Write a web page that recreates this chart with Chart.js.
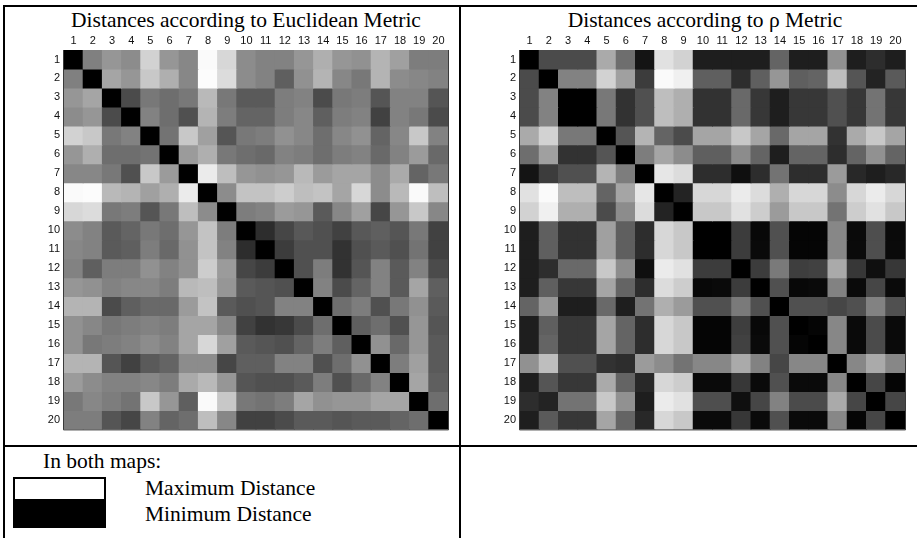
<!DOCTYPE html>
<html>
<head>
<meta charset="utf-8">
<script src="https://cdn.jsdelivr.net/npm/chart.js@4/dist/chart.umd.min.js"></script>
<style>
  html, body { margin: 0; padding: 0; background: #fff; }
  body { width: 917px; height: 538px; position: relative; overflow: hidden;
         font-family: "Liberation Serif", "Times New Roman", serif; color: #000; }
  .line { position: absolute; background: #000; }
  .title { position: absolute; top: 9px; font-size: 21.5px; line-height: 22px;
           text-align: center; white-space: nowrap; }
  .txt { position: absolute; font-size: 21.5px; line-height: 22px; white-space: nowrap; }
  canvas { position: absolute; top: 30px; }
</style>
</head>
<body>

<!-- table rules -->
<div class="line" style="left:3px; top:5px; width:914px; height:2px"></div>
<div class="line" style="left:3px; top:445px; width:914px; height:2px"></div>
<div class="line" style="left:3px; top:5px; width:2px; height:533px"></div>
<div class="line" style="left:459px; top:5px; width:2px; height:533px"></div>

<div class="title" style="left:0; width:492px">Distances according to Euclidean Metric</div>
<div class="title" style="left:455px; width:500px">Distances according to ρ Metric</div>

<canvas id="euclid" width="436" height="410" style="left:20px"></canvas>
<canvas id="rho" width="450" height="410" style="left:465px"></canvas>

<!-- key -->
<div class="txt" style="left:43px; top:450px">In both maps:</div>
<div style="position:absolute; left:13px; top:477px; width:93px; height:24px; border:2px solid #000; box-sizing:border-box; background:#fff"></div>
<div style="position:absolute; left:13px; top:501px; width:93px; height:27px; background:#000"></div>
<div class="txt" style="left:145px; top:477px">Maximum Distance</div>
<div class="txt" style="left:145px; top:503px">Minimum Distance</div>

<script>
// object numbers along both axes
const labels = ['1','2','3','4','5','6','7','8','9','10','11','12','13','14','15','16','17','18','19','20'];

// pairwise distances, 0 = identical (black) .. 255 = farthest apart (white)
const euclidDist = [
  [0,128,150,140,210,150,135,250,215,140,130,130,150,175,150,145,180,160,125,125],
  [128,0,165,150,200,175,135,252,220,140,130,95,145,180,135,120,180,140,135,130],
  [150,165,0,75,120,110,120,185,120,90,90,125,130,75,120,125,85,130,130,85],
  [140,150,75,0,130,110,80,180,125,100,100,125,135,95,125,130,65,130,120,75],
  [210,200,120,130,0,115,200,160,85,120,125,145,135,110,135,145,100,135,200,130],
  [150,175,110,110,115,0,155,175,120,110,105,130,125,110,125,130,105,130,155,105],
  [135,135,120,80,200,155,0,235,190,150,145,150,185,155,165,165,140,170,100,120],
  [250,252,185,180,160,175,235,0,140,195,195,205,190,195,165,215,140,185,250,190],
  [215,220,120,125,85,120,190,140,0,125,130,155,150,90,135,160,70,150,200,135],
  [140,130,90,100,120,110,150,195,125,0,45,70,88,80,65,88,95,85,120,65],
  [135,130,90,95,125,105,145,195,130,45,0,60,80,80,50,80,90,80,115,65],
  [130,95,125,125,145,130,145,205,155,70,60,0,80,125,50,85,130,90,130,75],
  [150,145,130,135,135,125,185,190,150,90,85,80,0,130,75,100,130,90,165,95],
  [180,180,75,95,105,105,155,195,90,80,85,130,130,0,110,125,80,120,145,90],
  [145,135,120,125,130,125,165,165,135,65,50,55,75,110,0,95,110,80,150,85],
  [145,120,125,130,140,130,165,215,160,90,85,80,100,125,95,0,145,105,150,90],
  [180,180,85,65,90,100,140,140,70,95,95,130,130,80,110,145,0,125,160,90],
  [155,140,130,130,135,125,170,185,150,85,80,80,90,125,80,105,130,0,165,95],
  [120,135,125,115,200,150,95,250,200,120,115,125,165,145,150,150,165,165,0,110],
  [125,125,85,70,130,100,110,190,135,65,65,75,90,90,85,90,90,100,110,0]
];

const rhoDist = [
  [0,75,75,75,170,110,20,225,210,30,30,30,30,100,30,30,145,30,45,30],
  [75,0,130,130,210,160,60,250,240,95,95,45,95,150,95,100,190,85,35,90],
  [75,130,0,0,120,50,80,190,175,50,50,105,55,30,55,55,80,55,115,55],
  [75,130,0,0,120,50,80,190,175,50,50,105,55,30,55,55,80,55,115,55],
  [170,210,120,120,0,85,180,100,75,165,165,200,165,105,165,165,50,170,200,165],
  [110,160,50,50,85,0,125,165,140,95,95,140,100,30,100,100,45,100,145,100],
  [20,60,80,80,180,125,0,230,220,45,45,15,45,115,45,45,155,40,30,40],
  [225,250,190,190,100,165,230,0,35,215,215,235,220,175,215,215,140,215,235,215],
  [210,240,175,175,75,140,220,35,0,200,200,225,205,155,200,200,115,205,225,200],
  [30,95,50,50,160,95,45,215,200,0,0,60,8,80,5,5,135,10,78,10],
  [30,95,50,50,160,95,45,215,200,0,0,60,10,80,5,5,135,10,78,10],
  [30,45,105,105,200,140,15,235,225,60,60,0,60,122,62,65,170,55,15,55],
  [30,95,55,55,165,100,45,220,205,8,10,60,0,80,8,10,130,10,70,10],
  [100,150,30,30,105,30,115,175,155,80,80,122,80,0,80,80,70,80,130,80],
  [30,95,55,55,165,100,45,215,200,5,5,62,8,80,0,5,135,10,75,10],
  [30,100,55,55,165,100,45,215,200,5,5,65,10,80,5,0,135,10,75,10],
  [145,190,80,80,50,45,155,140,115,135,135,170,130,70,135,135,0,135,170,135],
  [30,85,55,55,170,100,40,215,205,10,10,55,10,80,10,10,135,0,70,5],
  [45,35,115,115,200,145,30,235,225,78,78,15,70,130,75,75,170,70,0,70],
  [30,90,55,55,165,100,40,215,200,10,10,55,10,80,10,10,135,5,70,0]
];

function grey(v) {
  return 'rgb(' + v + ',' + v + ',' + v + ')';
}

// thin dark edge on the left, right and bottom of the cells
const frame = {
  id: 'frame',
  afterDatasetsDraw(chart) {
    const a = chart.chartArea, ctx = chart.ctx;
    ctx.save();
    ctx.strokeStyle = '#3a3a3a';
    ctx.lineWidth = 1;
    ctx.beginPath();
    ctx.moveTo(a.left - 0.5, a.top);
    ctx.lineTo(a.left - 0.5, a.bottom + 0.5);
    ctx.lineTo(a.right + 0.5, a.bottom + 0.5);
    ctx.lineTo(a.right + 0.5, a.top);
    ctx.stroke();
    ctx.restore();
  }
};

const tickFont = { family: '"Liberation Sans", Arial, sans-serif', size: 11 };

// each row of the matrix is one stacked dataset, every cell a unit-height bar
function heatmap(id, matrix, axisWidth, rightPad) {
  const datasets = matrix.map((row, r) => ({
    label: labels[r],
    data: row.map(() => 1),
    backgroundColor: row.map(grey),
    borderWidth: 0,
    inflateAmount: 0.5,
    barPercentage: 1,
    categoryPercentage: 1
  }));

  return new Chart(document.getElementById(id), {
    type: 'bar',
    data: { labels: labels, datasets: datasets },
    options: {
      responsive: false,
      animation: false,
      events: [],
      layout: { padding: { left: 0, top: 0, right: rightPad, bottom: 6 } },
      plugins: { legend: { display: false }, tooltip: { enabled: false } },
      scales: {
        x: {
          type: 'category',
          position: 'top',
          stacked: true,
          offset: true,
          grid: { display: false, drawTicks: false },
          border: { display: false },
          ticks: { font: tickFont, color: '#111', padding: 2, maxRotation: 0, autoSkip: false },
          afterFit: s => { s.height = 20; }
        },
        y: {
          type: 'linear',
          stacked: true,
          min: 0,
          max: 20,
          reverse: true,
          display: false
        },
        rows: {
          type: 'category',
          axis: 'y',
          position: 'left',
          labels: labels,
          offset: true,
          grid: { display: false, drawTicks: false },
          border: { display: false },
          ticks: { font: tickFont, color: '#111', padding: 4, autoSkip: false },
          afterFit: s => { s.width = axisWidth; }
        }
      }
    },
    plugins: [frame]
  });
}

heatmap('euclid', euclidDist, 44, 8);
heatmap('rho', rhoDist, 55, 10);
</script>
</body>
</html>
